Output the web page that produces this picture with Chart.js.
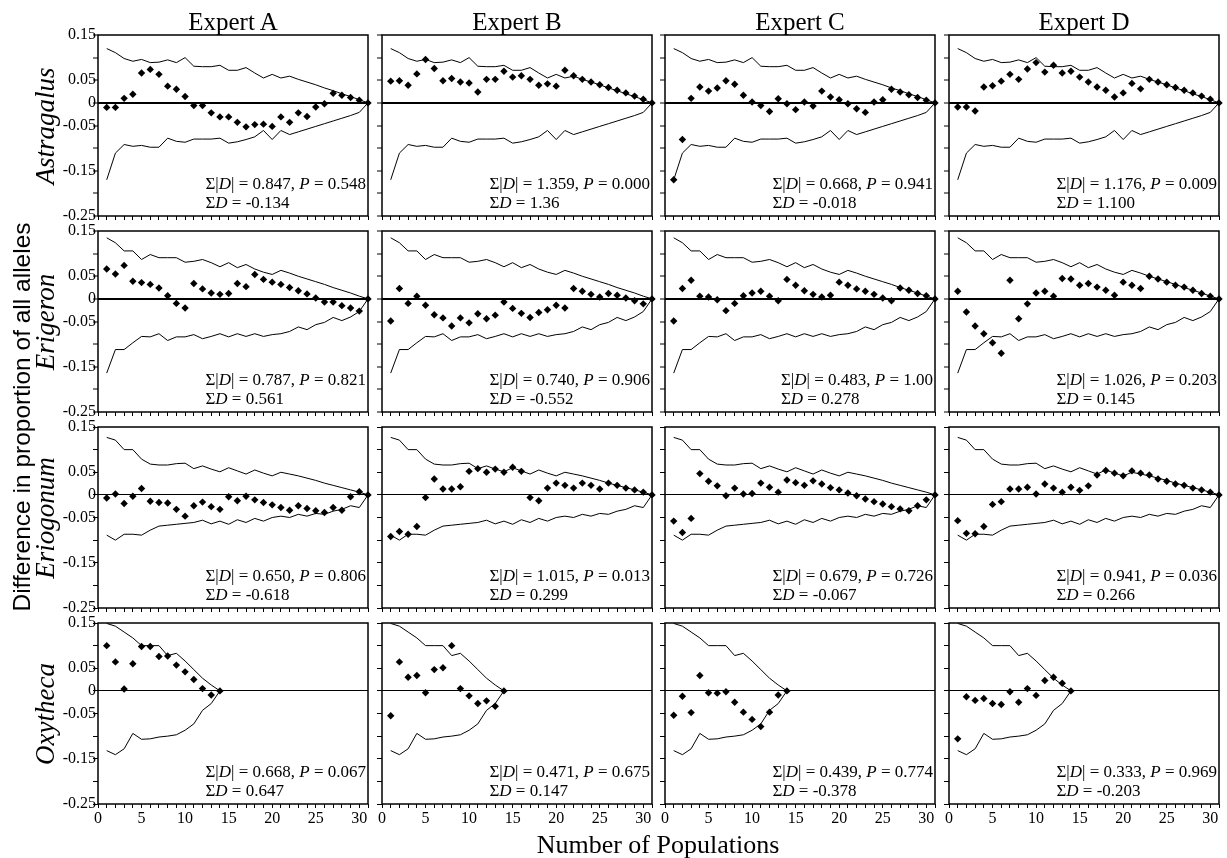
<!DOCTYPE html>
<html>
<head>
<meta charset="utf-8">
<script src="https://cdn.jsdelivr.net/npm/chart.js@4.4.1/dist/chart.umd.min.js"></script>
<style>
  body { margin: 0; background: #fff; }
  #fig { position: relative; width: 1227px; height: 858px; overflow: hidden; background: #fff; }
  #fig canvas { position: absolute; }
  .lbl { position: absolute; white-space: nowrap; color: #000; line-height: 1; }
  .rot { transform: translate(-50%, -50%) rotate(-90deg); }
  .ctr { transform: translate(-50%, -50%); }
  .stats { position: absolute; white-space: nowrap; color: #000; font: 17px "Liberation Serif", "Times New Roman", serif; line-height: 19px; text-align: left; }
</style>
</head>
<body>
<div id="fig"></div>
<script>
// Population numbers (x values)
const pops31 = [1,2,3,4,5,6,7,8,9,10,11,12,13,14,15,16,17,18,19,20,21,22,23,24,25,26,27,28,29,30,31];
const pops14 = [1,2,3,4,5,6,7,8,9,10,11,12,13,14];

const experts = ['Expert A', 'Expert B', 'Expert C', 'Expert D'];
const genera = ['Astragalus', 'Erigeron', 'Eriogonum', 'Oxytheca'];

// Astragalus
const astragalusUpper = [0.120,0.111,0.098,0.092,0.096,0.089,0.090,0.095,0.089,0.100,0.081,0.080,0.080,0.083,0.072,0.072,0.078,0.066,0.055,0.063,0.055,0.059,0.052,0.046,0.040,0.033,0.027,0.020,0.014,0.007,0];
const astragalusLower = [-0.170,-0.111,-0.092,-0.096,-0.094,-0.098,-0.098,-0.078,-0.085,-0.087,-0.080,-0.080,-0.080,-0.078,-0.089,-0.086,-0.081,-0.075,-0.061,-0.081,-0.061,-0.070,-0.064,-0.058,-0.052,-0.046,-0.040,-0.034,-0.028,-0.021,0];
const astragalusA = [-0.010,-0.010,0.010,0.019,0.066,0.074,0.063,0.037,0.030,0.014,-0.006,-0.006,-0.022,-0.031,-0.031,-0.043,-0.053,-0.048,-0.047,-0.052,-0.031,-0.043,-0.022,-0.030,-0.009,-0.002,0.021,0.017,0.012,0.006,0];
const astragalusB = [0.048,0.049,0.039,0.064,0.096,0.076,0.049,0.054,0.046,0.044,0.024,0.052,0.052,0.070,0.057,0.060,0.052,0.039,0.042,0.037,0.072,0.060,0.052,0.046,0.040,0.034,0.028,0.022,0.015,0.008,0];
const astragalusC = [-0.170,-0.081,0.010,0.035,0.026,0.033,0.049,0.041,0.017,0.002,-0.006,-0.019,0.009,-0.002,-0.015,0.002,-0.007,0.026,0.013,0.007,-0.002,-0.013,-0.021,0.002,0.007,0.030,0.024,0.018,0.012,0.006,0];
const astragalusD = [-0.009,-0.009,-0.018,0.035,0.038,0.048,0.063,0.052,0.075,0.089,0.068,0.083,0.066,0.070,0.057,0.046,0.035,0.028,0.013,0.022,0.043,0.031,0.052,0.046,0.040,0.034,0.028,0.022,0.015,0.008,0];

// Erigeron
const erigeronUpper = [0.135,0.124,0.106,0.106,0.087,0.098,0.091,0.091,0.091,0.081,0.083,0.087,0.080,0.071,0.080,0.069,0.076,0.066,0.059,0.054,0.063,0.057,0.050,0.044,0.038,0.032,0.025,0.019,0.013,0.006,0];
const erigeronLower = [-0.164,-0.112,-0.112,-0.097,-0.083,-0.084,-0.077,-0.092,-0.084,-0.084,-0.079,-0.088,-0.083,-0.077,-0.084,-0.077,-0.083,-0.077,-0.083,-0.079,-0.077,-0.072,-0.062,-0.068,-0.057,-0.052,-0.041,-0.048,-0.040,-0.028,0];
const erigeronA = [0.066,0.055,0.074,0.039,0.036,0.032,0.024,0.007,-0.010,-0.020,0.034,0.022,0.013,0.010,0.012,0.034,0.027,0.054,0.043,0.037,0.032,0.025,0.018,0.011,0.002,-0.007,-0.007,-0.015,-0.020,-0.027,0];
const erigeronB = [-0.049,0.023,-0.010,0.006,-0.014,-0.035,-0.042,-0.060,-0.042,-0.053,-0.033,-0.044,-0.036,-0.007,-0.021,-0.032,-0.041,-0.030,-0.024,-0.014,-0.020,0.023,0.017,0.010,0.004,0.012,0.008,0.002,-0.004,-0.011,0];
const erigeronC = [-0.049,0.023,0.041,0.006,0.004,-0.002,-0.026,-0.010,0.007,0.013,0.017,0.006,-0.004,0.043,0.030,0.018,0.010,0.004,0.008,0.037,0.030,0.022,0.017,0.010,0.002,-0.004,0.024,0.019,0.012,0.007,0];
const erigeronD = [0.017,-0.029,-0.060,-0.077,-0.097,-0.120,0.041,-0.044,-0.011,0.013,0.017,0.006,0.045,0.044,0.030,0.034,0.026,0.019,0.008,0.037,0.030,0.023,0.050,0.044,0.037,0.030,0.026,0.019,0.012,0.006,0];

// Eriogonum
const eriogonumUpper = [0.127,0.121,0.100,0.100,0.079,0.068,0.066,0.066,0.069,0.070,0.058,0.064,0.057,0.051,0.060,0.053,0.046,0.055,0.048,0.042,0.050,0.046,0.042,0.037,0.032,0.026,0.021,0.016,0.011,0.006,0];
const eriogonumLower = [-0.089,-0.100,-0.087,-0.087,-0.089,-0.078,-0.069,-0.067,-0.065,-0.063,-0.061,-0.056,-0.064,-0.058,-0.065,-0.055,-0.061,-0.052,-0.058,-0.050,-0.047,-0.050,-0.043,-0.047,-0.041,-0.043,-0.036,-0.032,-0.024,-0.028,0];
const eriogonumA = [-0.007,0.002,-0.019,-0.003,0.014,-0.014,-0.017,-0.018,-0.032,-0.047,-0.024,-0.016,-0.026,-0.032,-0.004,-0.013,-0.003,-0.011,-0.017,-0.022,-0.028,-0.034,-0.024,-0.030,-0.035,-0.039,-0.028,-0.034,-0.004,0.007,0];
const eriogonumB = [-0.092,-0.081,-0.087,-0.070,-0.006,0.035,0.013,0.013,0.018,0.052,0.058,0.050,0.057,0.050,0.061,0.052,-0.006,-0.013,0.015,0.026,0.021,0.015,0.026,0.021,0.013,0.026,0.021,0.015,0.011,0.006,0];
const eriogonumC = [-0.058,-0.083,-0.052,0.047,0.030,0.020,-0.002,0.015,0.002,0.003,0.026,0.017,0.006,0.033,0.027,0.021,0.031,0.024,0.016,0.011,0.004,-0.002,-0.009,-0.015,-0.020,-0.026,-0.031,-0.035,-0.024,-0.011,0];
const eriogonumD = [-0.057,-0.085,-0.086,-0.070,-0.021,-0.015,0.013,0.013,0.017,0.002,0.024,0.015,0.006,0.017,0.010,0.020,0.044,0.054,0.048,0.042,0.053,0.048,0.044,0.035,0.030,0.024,0.021,0.015,0.011,0.006,0];

// Oxytheca
const oxythecaUpper = [0.149,0.143,0.130,0.117,0.100,0.100,0.100,0.078,0.083,0.066,0.047,0.028,0.013,0];
const oxythecaLower = [-0.132,-0.141,-0.128,-0.094,-0.107,-0.106,-0.102,-0.100,-0.097,-0.087,-0.073,-0.043,-0.028,0];
const oxythecaA = [0.100,0.064,0.004,0.060,0.098,0.098,0.076,0.077,0.057,0.042,0.025,0.005,-0.009,0];
const oxythecaB = [-0.055,0.064,0.030,0.034,-0.004,0.047,0.051,0.100,0.005,-0.011,-0.028,-0.022,-0.034,0];
const oxythecaC = [-0.054,-0.012,-0.048,0.034,-0.004,-0.005,-0.002,-0.025,-0.047,-0.063,-0.079,-0.047,-0.009,0];
const oxythecaD = [-0.106,-0.013,-0.021,-0.017,-0.028,-0.030,-0.002,-0.025,0.005,-0.010,0.023,0.030,0.017,0];

// Test statistics printed in each panel (rows = genera, columns = experts)
const sumAbsD = [['0.847','1.359','0.668','1.176'], ['0.787','0.740','0.483','1.026'], ['0.650','1.015','0.679','0.941'], ['0.668','0.471','0.439','0.333']];
const pValues = [['0.548','0.000','0.941','0.009'], ['0.821','0.906','1.00','0.203'], ['0.806','0.013','0.726','0.036'], ['0.067','0.675','0.774','0.969']];
const sumD = [['-0.134','1.36','-0.018','1.100'], ['0.561','-0.552','0.278','0.145'], ['-0.618','0.299','-0.067','0.266'], ['0.647','0.147','-0.378','-0.203']];

const yTickLabels = [0.15, 0.05, 0, -0.05, -0.15, -0.25];
const xTickLabels = [0, 5, 10, 15, 20, 25, 30];

const popsByGenus = [pops31, pops31, pops31, pops14];
const upperByGenus = [astragalusUpper, erigeronUpper, eriogonumUpper, oxythecaUpper];
const lowerByGenus = [astragalusLower, erigeronLower, eriogonumLower, oxythecaLower];
const pointsByGenus = [
  [astragalusA, astragalusB, astragalusC, astragalusD],
  [erigeronA, erigeronB, erigeronC, erigeronD],
  [eriogonumA, eriogonumB, eriogonumC, eriogonumD],
  [oxythecaA, oxythecaB, oxythecaC, oxythecaD],
];

const SERIF = '"Liberation Serif", "Times New Roman", serif';
const SANS = '"Liberation Sans", Arial, sans-serif';

// Panel geometry
const PANEL_LEFT = [98, 382, 665, 949];
const PANEL_TOP = [35, 231, 427, 623];
const PANEL_W = 270;
const PANEL_H = 181;
const ZERO_WIDTH = [2, 2, 1, 1];

const fig = document.getElementById('fig');

function addLabel(text, x, y, css, cls) {
  const d = document.createElement('div');
  d.className = 'lbl ' + cls;
  d.innerHTML = text;
  d.style.left = x + 'px';
  d.style.top = y + 'px';
  Object.assign(d.style, css);
  fig.appendChild(d);
}

const framePlugin = {
  id: 'frame',
  afterDraw(chart) {
    const { ctx, chartArea: a } = chart;
    ctx.save();
    ctx.strokeStyle = '#000';
    ctx.lineWidth = 1.5;
    ctx.strokeRect(a.left, a.top, a.right - a.left, a.bottom - a.top);
    ctx.restore();
  }
};

function toXY(xs, ys) {
  return ys.map((y, i) => ({ x: xs[i], y }));
}

function makePanel(r, c) {
  const padL = 44, padT = 12, padR = 12;
  const padB = r === 3 ? 30 : 10;
  const canvas = document.createElement('canvas');
  const w = PANEL_W + padL + padR, h = PANEL_H + padT + padB;
  canvas.width = w; canvas.height = h;
  canvas.style.width = w + 'px'; canvas.style.height = h + 'px';
  canvas.style.left = (PANEL_LEFT[c] - padL) + 'px';
  canvas.style.top = (PANEL_TOP[r] - padT) + 'px';
  fig.appendChild(canvas);

  const xs = popsByGenus[r];
  const envStyle = { showLine: true, borderColor: '#000', borderWidth: 1, pointRadius: 0, tension: 0, fill: false, clip: false };

  new Chart(canvas.getContext('2d'), {
    type: 'scatter',
    data: {
      datasets: [
        { ...envStyle, data: toXY(xs, upperByGenus[r]) },
        { ...envStyle, data: toXY(xs, lowerByGenus[r]) },
        {
          data: toXY(xs, pointsByGenus[r][c]),
          pointStyle: 'rectRot', pointRadius: 3.7, backgroundColor: '#000',
          borderColor: '#000', borderWidth: 0, showLine: false, clip: false,
        },
      ]
    },
    options: {
      responsive: false,
      animation: false,
      devicePixelRatio: 1,
      events: [],
      layout: { padding: { top: padT, right: padR, left: 0, bottom: 0 } },
      plugins: { legend: { display: false }, tooltip: { enabled: false } },
      scales: {
        x: {
          type: 'linear', min: 0, max: 31,
          afterFit: s => { s.height = padB; },
          border: { display: false },
          grid: { color: 'rgba(0,0,0,0)', drawTicks: true, tickLength: 4, tickColor: '#000', tickWidth: 1 },
          ticks: {
            stepSize: 1, autoSkip: false, maxRotation: 0, padding: 1, color: '#000',
            font: { family: SERIF, size: 16 },
            callback: v => (r === 3 && xTickLabels.includes(v)) ? String(v) : '',
          },
        },
        y: {
          type: 'linear', min: -0.25, max: 0.15,
          afterFit: s => { s.width = padL; },
          border: { display: false },
          grid: {
            color: ctx => (ctx.tick && Math.abs(ctx.tick.value) < 1e-9) ? '#000' : 'rgba(0,0,0,0)',
            lineWidth: ZERO_WIDTH[r], drawTicks: true, tickLength: 5, tickColor: '#000', tickWidth: 1,
          },
          ticks: {
            stepSize: 0.05, padding: -3, color: '#000',
            font: { family: SERIF, size: 16 },
            callback: v => {
              const q = Math.round(v * 100) / 100;
              if (c !== 0 || !yTickLabels.includes(q)) return '';
              return q === 0 ? '0' : q.toFixed(2);
            },
          },
        },
      },
    },
    plugins: [framePlugin],
  });

  // Statistics text at the lower right of the panel
  const s = document.createElement('div');
  s.className = 'stats';
  s.innerHTML = `&Sigma;|<i>D</i>| = ${sumAbsD[r][c]}, <i>P</i> = ${pValues[r][c]}<br>&Sigma;<i>D</i> = ${sumD[r][c]}`;
  s.style.right = (1227 - (PANEL_LEFT[c] + PANEL_W) + 2) + 'px';
  s.style.top = (PANEL_TOP[r] + 139) + 'px';
  fig.appendChild(s);
}

for (let r = 0; r < 4; r++) {
  for (let c = 0; c < 4; c++) makePanel(r, c);
}

// Column titles
experts.forEach((t, c) => addLabel(t, PANEL_LEFT[c] + PANEL_W / 2, 22, { font: `25px ${SERIF}` }, 'ctr'));
// Row labels
genera.forEach((g, r) => addLabel(`<i>${g}</i>`, 45, PANEL_TOP[r] + PANEL_H / 2, { font: `27px ${SERIF}` }, 'rot'));
// Axis titles
addLabel('Difference in proportion of all alleles', 22, 417, { font: `24.5px ${SANS}` }, 'rot');
addLabel('Number of Populations', 658, 845, { font: `26px ${SERIF}` }, 'ctr');
</script>
</body>
</html>
